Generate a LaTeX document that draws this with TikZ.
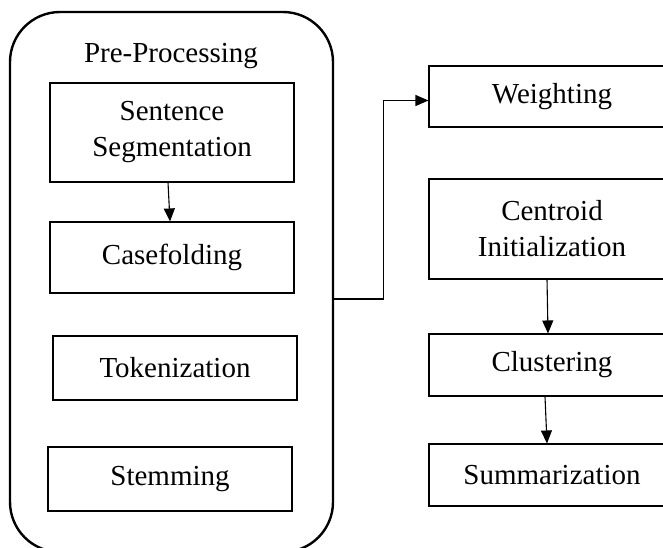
\documentclass[tikz,border=0pt]{standalone}
\usepackage{fontspec}
\setmainfont{Liberation Serif}
\usetikzlibrary{arrows.meta}
\begin{document}
\begin{tikzpicture}[x=1pt,y=-1pt,
  every node/.style={font=\fontsize{29}{36}\selectfont, align=center, inner sep=0pt},
  stepbox/.style={draw, line width=1.1pt, rectangle, minimum width=244pt},
  rbox/.style={draw, line width=1.1pt, rectangle, minimum width=246pt},
  conn/.style={line width=1.1pt, -{Triangle[length=13pt,width=11pt]}}]
\useasboundingbox (0,0) rectangle (663,547);
\clip (0,0) rectangle (663,547);
\node[draw, line width=2.4pt, rounded corners=50pt, minimum width=323pt, minimum height=540pt] (pre) at (171.5,282) {};
\node[anchor=base] (title) at (171,62) {Pre-Processing};
\node[stepbox, minimum height=99pt] (seg) at (172,132.5) {Sentence\\Segmentation};
\node[stepbox, minimum height=71pt] (case) at (172,257.5) {Casefolding};
\node[stepbox, minimum height=64pt] (tok) at (175,368) {Tokenization};
\node[stepbox, minimum height=64pt] (stem) at (170,479) {Stemming};
\node[rbox, minimum height=61pt] (weight) at (552,96.5) {Weighting};
\node[rbox, minimum height=100pt] (cent) at (552,229) {Centroid\\Initialization};
\node[rbox, minimum height=62pt] (clus) at (552,365) {Clustering};
\node[rbox, minimum height=62pt] (summ) at (552,475) {Summarization};
\coordinate (out) at (pre.east |- 0,299);
\draw[conn] ([xshift=-4pt]seg.south) -- ([xshift=-2pt]case.north);
\draw[conn] (out) -- ++(49,0) |- ([yshift=-4pt]weight.west);
\draw[conn] ([xshift=-5pt]cent.south) -- ([xshift=-4pt]clus.north);
\draw[conn] ([xshift=-7pt]clus.south) -- ([xshift=-5pt]summ.north);
\end{tikzpicture}
\end{document}
